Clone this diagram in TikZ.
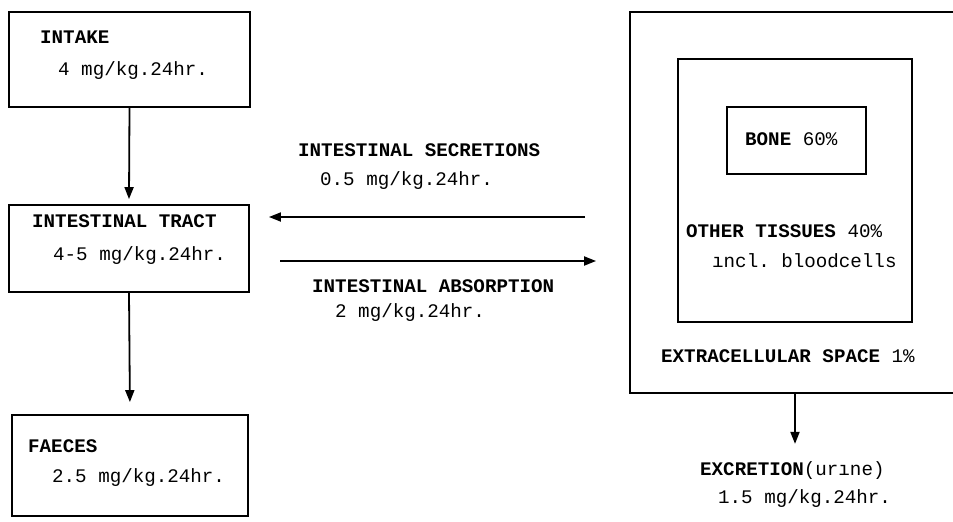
\documentclass[tikz,border=0pt]{standalone}
\usepackage{fontspec}
\newfontfamily\tw{Liberation Mono}
\usetikzlibrary{arrows.meta}
\tikzset{
  box/.style={draw, line width=1.8pt, inner sep=0pt, minimum width=#1},
  lab/.style={anchor=base west, inner sep=0pt, font=\tw\bfseries\fontsize{19.2}{20}\selectfont},
  val/.style={anchor=base west, inner sep=0pt, font=\tw\fontsize{19.2}{20}\selectfont},
  arr/.style={line width=1.8pt, -{Triangle[length=12pt,width=9pt]}}
}
\begin{document}
\frenchspacing
\begin{tikzpicture}[x=1pt,y=-1pt]
\useasboundingbox (0,0) rectangle (953,522);
% left boxes
\node[box=241, minimum height=95] (intake) at (129.5,59.5) {};
\node[box=240, minimum height=87] (tract) at (129,248.5) {};
\node[box=236, minimum height=101] (faeces) at (130,465.5) {};
% right boxes
\node[box=330, minimum height=381] (outer) at (795,202.5) {};
\node[box=234, minimum height=263] (inner) at (795,190.5) {};
\node[box=139, minimum height=67] (bone) at (796.5,140.5) {};
% texts
\node[lab] (tIntake) at (40,43) {INTAKE};
\node[val] (vIntake) at (58,75) {4 mg/kg.24hr.};
\node[lab] (tTract) at (32,227) {INTESTINAL TRACT};
\node[val] (vTract) at (53,260) {4-5 mg/kg.24hr.};
\node[lab] (tFaeces) at (28,452) {FAECES};
\node[val] (vFaeces) at (52,482) {2.5 mg/kg.24hr.};
\node[lab] (tSec) at (298,156) {INTESTINAL SECRETIONS};
\node[val] (vSec) at (320,185) {0.5 mg/kg.24hr.};
\node[lab] (tAbs) at (312,292) {INTESTINAL ABSORPTION};
\node[val] (vAbs) at (335,317) {2 mg/kg.24hr.};
\node[lab] (tBone) at (745,145) {BONE \mdseries 60\%};
\node[lab] (tOther) at (686,237) {OTHER TISSUES \mdseries 40\%};
\node[val] (vOther) at (712,267) {\i ncl. bloodcells};
\node[lab] (tExtra) at (661,362) {EXTRACELLULAR SPACE \mdseries 1\%};
\node[lab] (tExcr) at (700,475) {EXCRETION\mdseries(ur\i ne)};
\node[val] (vExcr) at (718,503) {1.5 mg/kg.24hr.};
% connectors
\coordinate (secR) at (585,217);
\coordinate (absL) at (280,261);
\draw[arr] (intake.south) -- ([yshift=5pt]tract.north);
\draw[arr, shorten >=12pt] (tract.south) -- (faeces.north);
\draw[arr, shorten >=19pt] (secR) -- (secR -| tract.east);
\draw[arr, shorten >=33pt] (absL) -- (absL -| outer.west);
\draw[arr, shorten >=17pt] (outer.south) -- (tExcr.north -| outer.south);
\end{tikzpicture}
\end{document}
